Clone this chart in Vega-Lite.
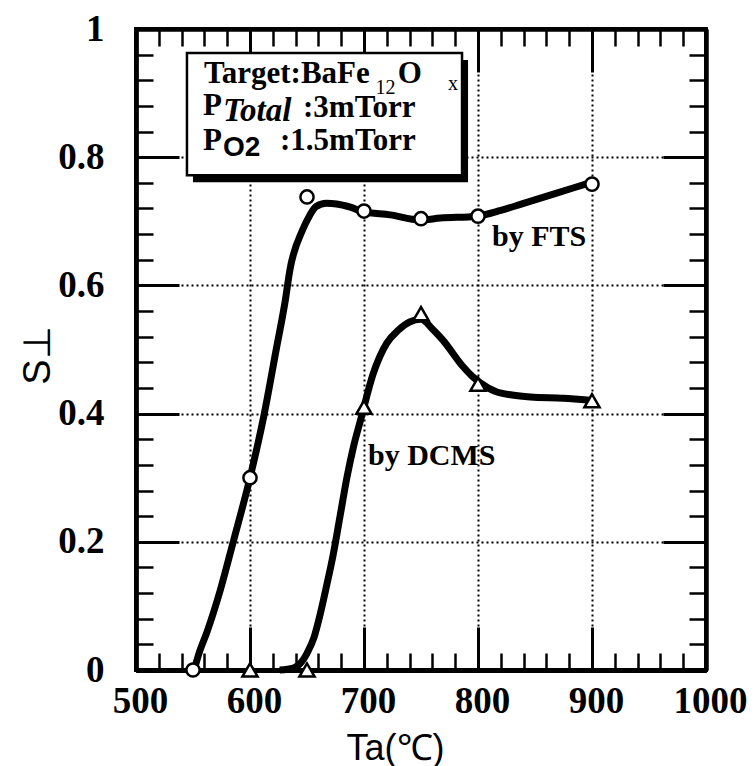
{
  "$schema": "https://vega.github.io/schema/vega-lite/v6.json",
  "width": 570,
  "height": 641,
  "autosize": "none",
  "padding": {"left": 136, "top": 29, "right": 49, "bottom": 96},
  "background": "white",
  "config": {"view": {"stroke": "black", "strokeWidth": 4}},
  "datasets": {
    "fts_line": [
      {"Ta": 551, "S": 0}, {"Ta": 556, "S": 0.03}, {"Ta": 562, "S": 0.058}, {"Ta": 574, "S": 0.125},
      {"Ta": 585, "S": 0.198}, {"Ta": 600, "S": 0.3}, {"Ta": 612, "S": 0.395}, {"Ta": 623, "S": 0.5},
      {"Ta": 631, "S": 0.577}, {"Ta": 635, "S": 0.624}, {"Ta": 646, "S": 0.686}, {"Ta": 652, "S": 0.708},
      {"Ta": 658, "S": 0.723}, {"Ta": 667, "S": 0.728}, {"Ta": 676, "S": 0.727}, {"Ta": 688, "S": 0.722},
      {"Ta": 699, "S": 0.715}, {"Ta": 723, "S": 0.71}, {"Ta": 749, "S": 0.702}, {"Ta": 767, "S": 0.705},
      {"Ta": 799, "S": 0.708}, {"Ta": 820, "S": 0.717}, {"Ta": 840, "S": 0.728}, {"Ta": 869, "S": 0.744},
      {"Ta": 898, "S": 0.76}
    ],
    "dcms_line": [
      {"Ta": 626, "S": 0}, {"Ta": 638, "S": 0.003}, {"Ta": 645, "S": 0.012}, {"Ta": 650, "S": 0.026},
      {"Ta": 656, "S": 0.05}, {"Ta": 661, "S": 0.083}, {"Ta": 667, "S": 0.13}, {"Ta": 673, "S": 0.18},
      {"Ta": 679, "S": 0.24}, {"Ta": 685, "S": 0.3}, {"Ta": 691, "S": 0.35}, {"Ta": 697, "S": 0.39},
      {"Ta": 708, "S": 0.462}, {"Ta": 720, "S": 0.51}, {"Ta": 730, "S": 0.53}, {"Ta": 740, "S": 0.543},
      {"Ta": 750, "S": 0.547}, {"Ta": 760, "S": 0.532}, {"Ta": 769, "S": 0.515}, {"Ta": 787, "S": 0.473},
      {"Ta": 795, "S": 0.458}, {"Ta": 802, "S": 0.448}, {"Ta": 816, "S": 0.434}, {"Ta": 830, "S": 0.429},
      {"Ta": 846, "S": 0.426}, {"Ta": 875, "S": 0.424}, {"Ta": 898, "S": 0.421}
    ],
    "fts_pts": [
      {"Ta": 550, "S": 0}, {"Ta": 600, "S": 0.3}, {"Ta": 650, "S": 0.738}, {"Ta": 700, "S": 0.716},
      {"Ta": 750, "S": 0.704}, {"Ta": 800, "S": 0.708}, {"Ta": 900, "S": 0.758}
    ],
    "dcms_pts": [
      {"Ta": 600, "S": 0}, {"Ta": 650, "S": 0}, {"Ta": 700, "S": 0.41}, {"Ta": 750, "S": 0.556},
      {"Ta": 800, "S": 0.446}, {"Ta": 900, "S": 0.42}
    ],
    "box": [{"x1": 544.7, "x2": 786, "y1": 0.772, "y2": 0.9626}],
    "txt_main": [
      {"x": 559.6, "y": 0.9158, "t": "Target:BaFe"},
      {"x": 729.5, "y": 0.9158, "t": "O"},
      {"x": 558.8, "y": 0.866, "t": "P"},
      {"x": 646.5, "y": 0.863, "t": ":3mTorr"},
      {"x": 558.8, "y": 0.811, "t": "P"},
      {"x": 626.3, "y": 0.811, "t": ":1.5mTorr"}
    ],
    "txt_sub": [
      {"x": 710, "y": 0.898, "t": "12"},
      {"x": 773.7, "y": 0.905, "t": "x"}
    ],
    "txt_ital": [{"x": 576.3, "y": 0.856, "t": "Total"}],
    "txt_o2": [{"x": 576.3, "y": 0.802, "t": "O2"}],
    "labels": [
      {"x": 812.3, "y": 0.661, "t": "by  FTS"},
      {"x": 703.5, "y": 0.32, "t": "by  DCMS"}
    ]
  },
  "resolve": {"axis": {"x": "independent", "y": "independent"}},
  "layer": [
    {
      "data": {"name": "box"},
      "mark": {"type": "rect", "color": "black", "xOffset": 6, "x2Offset": 6, "yOffset": 7, "y2Offset": 7},
      "encoding": {
        "x": {
          "field": "x1", "type": "quantitative",
          "scale": {"domain": [500, 1000], "nice": false, "zero": false},
          "axis": {
            "orient": "bottom", "values": [500, 600, 700, 800, 900, 1000], "format": "d",
            "ticks": false, "tickSize": 0,
            "domain": true, "domainWidth": 5, "domainColor": "black",
            "grid": true, "gridColor": "black", "gridDash": [2, 3], "gridWidth": 2,
            "labelFont": "Liberation Serif", "labelFontWeight": "bold", "labelFontSize": 37, "labelColor": "black",
            "labelPadding": 13, "labelOffset": 4, "labelFlush": false, "labelOverlap": false, "labelBound": false,
            "title": "Ta(℃)", "titleFont": "Liberation Sans", "titleFontSize": 36, "titleFontWeight": "normal",
            "titleColor": "black", "titleX": 259, "titleY": 89, "titleBaseline": "alphabetic", "titleAlign": "center"
          }
        },
        "x2": {"field": "x2"},
        "y": {
          "field": "y1", "type": "quantitative",
          "scale": {"domain": [0, 1], "nice": false, "zero": false},
          "axis": {
            "orient": "left", "values": [0, 0.2, 0.4, 0.6, 0.8, 1], "format": "~g",
            "ticks": false, "tickSize": 0,
            "domain": true, "domainWidth": 4, "domainColor": "black",
            "grid": true, "gridColor": "black", "gridDash": [2, 3], "gridWidth": 2,
            "labelFont": "Liberation Serif", "labelFontWeight": "bold", "labelFontSize": 37, "labelColor": "black",
            "labelPadding": 32, "labelFlush": false, "labelOverlap": false, "labelBound": false, "labelBaseline": "middle",
            "title": "S⊥", "titleFont": "Liberation Sans", "titleFontSize": 38, "titleFontWeight": "normal",
            "titleColor": "black", "titleX": -98, "titleY": 326, "titleAngle": 270, "titleBaseline": "middle", "titleAlign": "center"
          }
        },
        "y2": {"field": "y2"}
      }
    },
    {
      "data": {"name": "box"},
      "mark": {"type": "rect", "fill": "white", "stroke": "black", "strokeWidth": 2.5},
      "encoding": {
        "x": {
          "field": "x1", "type": "quantitative",
          "axis": {
            "orient": "bottom", "values": [500, 600, 700, 800, 900, 1000],
            "tickSize": -43, "tickWidth": 3, "tickColor": "black",
            "domain": true, "domainWidth": 5, "domainColor": "black", "grid": false, "labels": false, "title": null
          }
        },
        "x2": {"field": "x2"},
        "y": {
          "field": "y1", "type": "quantitative",
          "axis": {
            "orient": "left", "values": [0, 0.2, 0.4, 0.6, 0.8, 1],
            "tickSize": -43, "tickWidth": 3, "tickColor": "black",
            "domain": true, "domainWidth": 4, "domainColor": "black", "grid": false, "labels": false, "title": null
          }
        },
        "y2": {"field": "y2"}
      }
    },
    {
      "data": {"name": "fts_line"},
      "mark": {"type": "line", "color": "black", "strokeWidth": 7, "interpolate": "monotone"},
      "encoding": {
        "x": {
          "field": "Ta", "type": "quantitative",
          "axis": {
            "orient": "top", "values": [500, 600, 700, 800, 900, 1000],
            "tickSize": -43, "tickWidth": 3, "tickColor": "black",
            "domain": true, "domainWidth": 4, "domainColor": "black", "grid": false, "labels": false, "title": null
          }
        },
        "y": {
          "field": "S", "type": "quantitative",
          "axis": {
            "orient": "right", "values": [0, 0.2, 0.4, 0.6, 0.8, 1],
            "tickSize": -43, "tickWidth": 3, "tickColor": "black",
            "domain": true, "domainWidth": 4, "domainColor": "black", "grid": false, "labels": false, "title": null
          }
        }
      }
    },
    {
      "data": {"name": "dcms_line"},
      "mark": {"type": "line", "color": "black", "strokeWidth": 7, "interpolate": "monotone"},
      "encoding": {
        "x": {
          "field": "Ta", "type": "quantitative",
          "axis": {
            "orient": "bottom",
            "values": [500, 520, 540, 560, 580, 600, 620, 640, 660, 680, 700, 720, 740, 760, 780, 800, 820, 840, 860, 880, 900, 920, 940, 960, 980, 1000],
            "tickSize": -17, "tickWidth": 2.5, "tickColor": "black",
            "domain": true, "domainWidth": 5, "domainColor": "black", "grid": false, "labels": false, "title": null
          }
        },
        "y": {
          "field": "S", "type": "quantitative",
          "axis": {
            "orient": "left",
            "values": [0, 0.04, 0.08, 0.12, 0.16, 0.2, 0.24, 0.28, 0.32, 0.36, 0.4, 0.44, 0.48, 0.52, 0.56, 0.6, 0.64, 0.68, 0.72, 0.76, 0.8, 0.84, 0.88, 0.92, 0.96, 1],
            "tickSize": -17, "tickWidth": 2.5, "tickColor": "black",
            "domain": true, "domainWidth": 4, "domainColor": "black", "grid": false, "labels": false, "title": null
          }
        }
      }
    },
    {
      "data": {"name": "fts_pts"},
      "mark": {"type": "point", "shape": "circle", "filled": true, "fill": "white", "stroke": "black", "strokeWidth": 2.5, "size": 175, "opacity": 1},
      "encoding": {
        "x": {
          "field": "Ta", "type": "quantitative",
          "axis": {
            "orient": "top",
            "values": [500, 520, 540, 560, 580, 600, 620, 640, 660, 680, 700, 720, 740, 760, 780, 800, 820, 840, 860, 880, 900, 920, 940, 960, 980, 1000],
            "tickSize": -17, "tickWidth": 2.5, "tickColor": "black",
            "domain": true, "domainWidth": 4, "domainColor": "black", "grid": false, "labels": false, "title": null
          }
        },
        "y": {
          "field": "S", "type": "quantitative",
          "axis": {
            "orient": "right",
            "values": [0, 0.04, 0.08, 0.12, 0.16, 0.2, 0.24, 0.28, 0.32, 0.36, 0.4, 0.44, 0.48, 0.52, 0.56, 0.6, 0.64, 0.68, 0.72, 0.76, 0.8, 0.84, 0.88, 0.92, 0.96, 1],
            "tickSize": -17, "tickWidth": 2.5, "tickColor": "black",
            "domain": true, "domainWidth": 4, "domainColor": "black", "grid": false, "labels": false, "title": null
          }
        }
      }
    },
    {
      "data": {"name": "dcms_pts"},
      "mark": {"type": "point", "shape": "triangle-up", "filled": true, "fill": "white", "stroke": "black", "strokeWidth": 2.5, "size": 230, "opacity": 1},
      "encoding": {
        "x": {"field": "Ta", "type": "quantitative", "axis": null},
        "y": {"field": "S", "type": "quantitative", "axis": null}
      }
    },
    {
      "data": {"name": "txt_main"},
      "mark": {"type": "text", "font": "Liberation Serif", "fontWeight": "bold", "fontSize": 31, "align": "left", "baseline": "alphabetic", "color": "black"},
      "encoding": {
        "x": {"field": "x", "type": "quantitative", "axis": null},
        "y": {"field": "y", "type": "quantitative", "axis": null},
        "text": {"field": "t"}
      }
    },
    {
      "data": {"name": "txt_sub"},
      "mark": {"type": "text", "font": "Liberation Serif", "fontWeight": "normal", "fontSize": 20, "align": "left", "baseline": "alphabetic", "color": "black"},
      "encoding": {
        "x": {"field": "x", "type": "quantitative", "axis": null},
        "y": {"field": "y", "type": "quantitative", "axis": null},
        "text": {"field": "t"}
      }
    },
    {
      "data": {"name": "txt_ital"},
      "mark": {"type": "text", "font": "Liberation Serif", "fontWeight": "bold", "fontStyle": "italic", "fontSize": 33, "align": "left", "baseline": "alphabetic", "color": "black"},
      "encoding": {
        "x": {"field": "x", "type": "quantitative", "axis": null},
        "y": {"field": "y", "type": "quantitative", "axis": null},
        "text": {"field": "t"}
      }
    },
    {
      "data": {"name": "txt_o2"},
      "mark": {"type": "text", "font": "Liberation Sans", "fontWeight": "bold", "fontSize": 28, "align": "left", "baseline": "alphabetic", "color": "black"},
      "encoding": {
        "x": {"field": "x", "type": "quantitative", "axis": null},
        "y": {"field": "y", "type": "quantitative", "axis": null},
        "text": {"field": "t"}
      }
    },
    {
      "data": {"name": "labels"},
      "mark": {"type": "text", "font": "Liberation Serif", "fontWeight": "bold", "fontSize": 30, "align": "left", "baseline": "alphabetic", "color": "black"},
      "encoding": {
        "x": {"field": "x", "type": "quantitative", "axis": null},
        "y": {"field": "y", "type": "quantitative", "axis": null},
        "text": {"field": "t"}
      }
    }
  ]
}
